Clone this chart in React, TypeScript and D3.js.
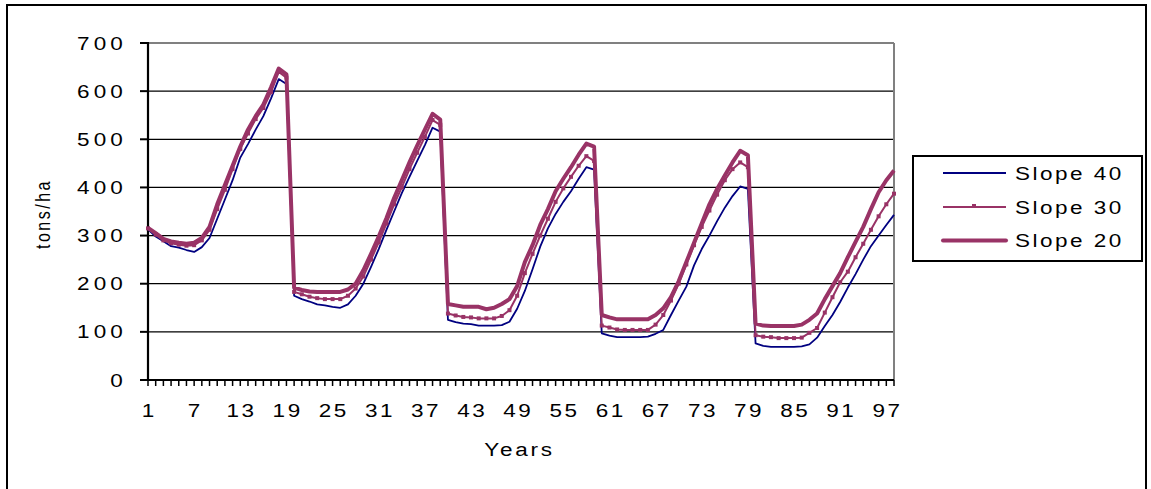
import React from 'react';
import * as d3 from 'd3';

// Simulated standing stock (tons/ha) over 98 years for three slope classes
const years: number[] = d3.range(1, 99);

const slope40: number[] = [
  313, 298, 288, 278, 275, 270, 266, 276, 295, 335, 375, 415, 462, 490, 520, 548, 585, 625, 615,
  175, 168, 163, 157, 155, 152, 150, 157, 175, 200, 235, 272, 312, 350, 388, 422, 455, 488, 524, 516,
  125, 120, 117, 116, 113, 113, 113, 114, 121, 148, 185, 230, 277, 315, 345, 370, 392, 418, 442, 437,
  97, 92, 89, 89, 89, 89, 90, 96, 104, 135, 165, 194, 238, 272, 300, 330, 358, 382, 402, 397,
  76, 71, 69, 69, 69, 69, 70, 74, 88, 112, 135, 162, 192, 220, 250, 278, 300, 322, 343,
];

const slope30: number[] = [
  315, 302, 290, 284, 281, 279, 280, 290, 312, 355, 395, 438, 480, 512, 542, 565, 598, 640, 628,
  183, 178, 173, 170, 168, 168, 168, 175, 190, 215, 250, 286, 325, 365, 400, 438, 472, 505, 540, 530,
  138, 134, 131, 130, 128, 128, 128, 133, 145, 175, 222, 262, 300, 335, 370, 398, 422, 445, 465, 455,
  113, 109, 105, 104, 104, 104, 104, 115, 135, 165, 200, 240, 280, 318, 352, 385, 415, 438, 452, 442,
  93, 90, 89, 87, 87, 87, 88, 98, 108, 140, 172, 203, 225, 255, 283, 312, 340, 365, 387,
];

const slope20: number[] = [
  316, 305, 293, 288, 285, 283, 285, 295, 318, 365, 405, 445, 485, 520, 548, 572, 608, 647, 635,
  192, 187, 184, 183, 183, 183, 183, 188, 200, 228, 262, 298, 336, 378, 415, 452, 487, 520, 553, 541,
  158, 155, 152, 152, 152, 147, 150, 158, 168, 195, 245, 280, 322, 355, 392, 418, 442, 468, 491, 485,
  135, 130, 126, 126, 126, 126, 126, 135, 149, 172, 205, 245, 285, 325, 365, 397, 425, 452, 476, 467,
  117, 113, 112, 112, 112, 112, 115, 125, 138, 168, 195, 222, 255, 287, 318, 355, 390, 415, 435,
];

const yTicks: number[] = [0, 100, 200, 300, 400, 500, 600, 700];
const xTickLabels: number[] = [1, 7, 13, 19, 25, 31, 37, 43, 49, 55, 61, 67, 73, 79, 85, 91, 97];
const seriesNames: string[] = ['Slope 40', 'Slope 30', 'Slope 20'];

const W = 1151;
const H = 489;
const PLOT = { left: 148, right: 894, top: 43, bottom: 380 };
const SX = 1.25; // horizontal stretch of all lettering
const FONT = "'Liberation Sans', Arial, Helvetica, sans-serif";
const NAVY = '#000080';
const PLUM = '#993366';

type STextProps = {
  x: number;
  y: number;
  anchor?: 'start' | 'middle' | 'end';
  size?: number;
  ls?: number;
  rotate?: number;
  children: React.ReactNode;
};

function SText({ x, y, anchor = 'start', size = 18, ls = 2, rotate = 0, children }: STextProps) {
  const rot = rotate ? ` rotate(${rotate})` : '';
  return (
    <text
      transform={`translate(${x},${y}) scale(${SX},1)${rot}`}
      textAnchor={anchor}
      fontFamily={FONT}
      fontSize={size}
      letterSpacing={ls}
      fill="#000"
    >
      {children}
    </text>
  );
}

export default function App() {
  const x = d3.scaleLinear().domain([1, years.length]).range([PLOT.left, PLOT.right]);
  const y = d3.scaleLinear().domain([0, 700]).range([PLOT.bottom, PLOT.top]);

  const line = d3
    .line<number>()
    .x((_, i) => x(years[i]))
    .y((d) => y(d));

  const legendRows = [PLOT.top + 130, PLOT.top + 164, PLOT.top + 197.5];

  return (
    <svg
      width={W}
      height={H}
      viewBox={`0 0 ${W} ${H}`}
      style={{ position: 'absolute', left: 0, top: 0, background: '#fff' }}
    >
      <rect x={0} y={0} width={W} height={H} fill="#fff" />
      {/* chart frame */}
      <rect x={7} y={5} width={1139} height={520} fill="none" stroke="#000" strokeWidth={2} />

      {/* horizontal gridlines */}
      {yTicks.slice(1, -1).map((t) => (
        <line key={`g${t}`} x1={PLOT.left} x2={PLOT.right} y1={y(t)} y2={y(t)} stroke="#000" strokeWidth={1.2} />
      ))}
      {/* plot area top / right edges */}
      <line x1={PLOT.left} x2={PLOT.right} y1={y(700)} y2={y(700)} stroke="#808080" strokeWidth={2} />
      <line x1={PLOT.right} x2={PLOT.right} y1={y(700)} y2={PLOT.bottom} stroke="#808080" strokeWidth={2} />

      {/* y axis */}
      <line x1={PLOT.left} x2={PLOT.left} y1={y(700) - 1} y2={PLOT.bottom + 1} stroke="#000" strokeWidth={2.2} />
      {yTicks.map((t) => (
        <g key={`yt${t}`}>
          <line x1={PLOT.left - 8} x2={PLOT.left} y1={y(t)} y2={y(t)} stroke="#000" strokeWidth={2} />
          <SText x={127} y={y(t) + 6.5} anchor="end" ls={3.3}>
            {t}
          </SText>
        </g>
      ))}

      {/* x axis */}
      <line x1={PLOT.left - 8} x2={PLOT.right} y1={PLOT.bottom} y2={PLOT.bottom} stroke="#000" strokeWidth={2.2} />
      {years.map((yr) => (
        <line key={`xt${yr}`} x1={x(yr)} x2={x(yr)} y1={PLOT.bottom} y2={PLOT.bottom + 6} stroke="#000" strokeWidth={1.5} />
      ))}
      {xTickLabels.map((yr) => (
        <SText key={`xl${yr}`} x={x(yr) + 1.2} y={417} anchor="middle" ls={2}>
          {yr}
        </SText>
      ))}

      <SText x={519.5} y={456} anchor="middle" ls={2.2}>
        Years
      </SText>
      <SText x={50} y={214} anchor="middle" size={16} ls={2.5} rotate={-90}>
        tons/ha
      </SText>

      {/* series */}
      <path d={line(slope40) ?? ''} fill="none" stroke={NAVY} strokeWidth={1.8} strokeLinejoin="round" />
      <path d={line(slope30) ?? ''} fill="none" stroke={PLUM} strokeWidth={2} strokeLinejoin="round" />
      {slope30.map((v, i) => (
        <rect key={`m${i}`} x={x(years[i]) - 2} y={y(v) - 2} width={4} height={4} fill={PLUM} />
      ))}
      <path d={line(slope20) ?? ''} fill="none" stroke={PLUM} strokeWidth={4} strokeLinejoin="round" />

      {/* legend */}
      <rect x={913} y={156} width={229} height={105} fill="#fff" stroke="#000" strokeWidth={2} />
      <line x1={943} x2={1006} y1={legendRows[0]} y2={legendRows[0]} stroke={NAVY} strokeWidth={2} />
      <line x1={943} x2={1006} y1={legendRows[1]} y2={legendRows[1]} stroke={PLUM} strokeWidth={2} />
      <rect x={972} y={legendRows[1] - 3} width={4} height={4} fill={PLUM} />
      <line x1={943} x2={1006} y1={legendRows[2]} y2={legendRows[2]} stroke={PLUM} strokeWidth={4} strokeLinecap="round" />
      {seriesNames.map((name, i) => (
        <SText key={name} x={1015} y={legendRows[i] + 6.5} ls={2}>
          {name}
        </SText>
      ))}
    </svg>
  );
}
